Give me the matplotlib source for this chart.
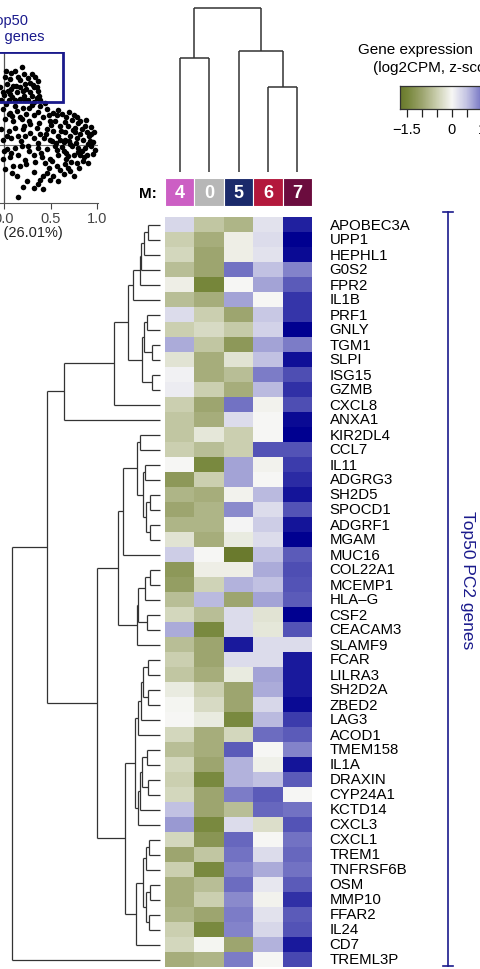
import numpy as np
import matplotlib
matplotlib.use('Agg')
import matplotlib.pyplot as plt
from matplotlib.colors import LinearSegmentedColormap
from matplotlib.patches import Rectangle
from matplotlib.lines import Line2D

plt.rcParams['font.family'] = ['Liberation Sans', 'DejaVu Sans']

genes = ["APOBEC3A", "UPP1", "HEPHL1", "G0S2", "FPR2", "IL1B", "PRF1", "GNLY",
         "TGM1", "SLPI", "ISG15", "GZMB", "CXCL8", "ANXA1", "KIR2DL4", "CCL7",
         "IL11", "ADGRG3", "SH2D5", "SPOCD1", "ADGRF1", "MGAM", "MUC16", "COL22A1",
         "MCEMP1", "HLA\u2013G", "CSF2", "CEACAM3", "SLAMF9", "FCAR", "LILRA3",
         "SH2D2A", "ZBED2", "LAG3", "ACOD1", "TMEM158", "IL1A", "DRAXIN", "CYP24A1",
         "KCTD14", "CXCL3", "CXCL1", "TREM1", "TNFRSF6B", "OSM", "MMP10", "FFAR2",
         "IL24", "CD7", "TREML3P"]

clusters = ["4", "0", "5", "6", "7"]
cluster_colors = ["#cc5fc4", "#b7b7b7", "#1b2a6b", "#b3183c", "#6b0c3e"]

# z-scored log2CPM, rows = genes, cols = clusters 4,0,5,6,7
expr = np.array([
    [0.3, -0.6, -0.8, 0.2, 1.7],
    [-0.5, -0.9, -0.1, 0.25, 2.0],
    [-0.4, -1.0, -0.1, 0.2, 1.9],
    [-0.7, -1.0, 1.0, 0.5, 0.9],
    [-0.1, -1.5, 0.0, 0.7, 1.2],
    [-0.7, -0.9, 0.7, 0.0, 1.5],
    [0.25, -0.5, -1.0, 0.45, 1.5],
    [-0.5, -0.35, -0.55, 0.35, 2.0],
    [0.65, -0.6, -1.2, 0.7, 0.95],
    [-0.25, -0.9, -0.25, 0.5, 1.85],
    [0.05, -0.9, -0.7, 0.95, 1.3],
    [0.1, -0.5, -0.9, 0.55, 1.55],
    [-0.5, -1.0, 1.0, -0.05, 1.3],
    [-0.6, -0.9, 0.25, 0.0, 1.9],
    [-0.6, -0.2, -0.5, 0.0, 2.0],
    [-0.5, -0.7, -0.5, 1.25, 1.25],
    [0.0, -1.45, 0.7, -0.05, 1.45],
    [-1.2, -0.5, 0.7, 0.0, 1.6],
    [-0.8, -0.9, -0.05, 0.55, 1.8],
    [-1.0, -0.8, 0.85, 0.25, 1.25],
    [-0.8, -0.8, 0.02, 0.4, 1.8],
    [-0.25, -0.9, -0.15, 0.25, 2.0],
    [0.4, 0.0, -1.7, 0.5, 1.2],
    [-1.2, -0.1, -0.1, 0.65, 1.3],
    [-1.1, -0.45, 0.6, 0.5, 1.25],
    [-0.7, 0.55, -1.0, 0.7, 1.2],
    [-0.4, -0.7, 0.25, -0.25, 2.0],
    [0.65, -1.45, 0.25, -0.2, 1.25],
    [-0.7, -1.0, 1.75, 0.25, 0.25],
    [-0.5, -1.0, 0.25, 0.25, 1.75],
    [-0.6, -0.9, -0.15, 0.7, 1.75],
    [-0.15, -0.5, -1.0, 0.65, 1.75],
    [-0.02, -0.35, -1.0, 0.3, 1.9],
    [0.0, -0.15, -1.45, 0.55, 1.45],
    [-0.4, -0.9, -0.4, 1.05, 1.2],
    [-0.7, -0.9, 1.2, 0.0, 0.9],
    [-0.4, -1.0, 0.6, -0.08, 1.8],
    [-0.5, -1.45, 0.6, 0.5, 1.2],
    [-0.4, -1.0, 0.95, 1.2, 0.0],
    [0.5, -1.0, -0.7, 1.1, 1.0],
    [0.75, -1.45, 0.25, -0.3, 1.25],
    [-0.4, -1.25, 1.1, 0.0, 1.0],
    [-1.0, -0.6, 1.0, 0.25, 1.1],
    [-0.5, -1.45, 0.9, 0.65, 1.0],
    [-0.9, -0.7, 1.05, 0.15, 1.2],
    [-0.9, -0.5, 0.85, -0.05, 1.55],
    [-0.8, -1.0, 0.95, 0.2, 1.2],
    [-0.5, -1.45, 0.9, 0.3, 1.25],
    [-0.4, -0.03, -1.0, 0.6, 1.75],
    [-0.9, -0.8, 0.95, 0.0, 1.35],
])

# row dendrogram: (child a, child b, height); ids >= 50 are earlier merges
row_merges = [
    (0, 1, 0.81), (50, 2, 1.08), (51, 3, 1.28), (52, 4, 1.35), (53, 5, 1.82),
    (6, 7, 0.88), (8, 9, 0.54), (55, 56, 1.08), (10, 11, 0.54), (57, 58, 1.22),
    (54, 59, 2.16), (60, 12, 3.11), (61, 13, 6.49),
    (14, 15, 1.35), (16, 17, 1.01), (18, 19, 0.68), (20, 21, 0.68), (65, 66, 0.95),
    (64, 67, 1.15), (63, 68, 1.55), (69, 22, 2.50),
    (23, 24, 0.68), (71, 25, 1.01), (26, 27, 0.88), (72, 73, 1.49), (74, 28, 1.55),
    (70, 75, 2.84),
    (29, 30, 0.81), (31, 32, 0.81), (77, 78, 1.15), (79, 33, 1.28), (80, 34, 1.49),
    (35, 36, 0.88), (37, 38, 0.81), (82, 83, 1.22), (84, 39, 1.35), (85, 40, 1.49),
    (81, 86, 1.69),
    (41, 42, 0.74), (88, 43, 0.95), (44, 45, 0.68), (46, 47, 0.74), (90, 91, 0.95),
    (89, 92, 1.15), (93, 48, 1.62), (87, 94, 2.36),
    (76, 95, 4.26), (62, 96, 7.64), (97, 49, 10.0),
]

# column dendrogram over clusters in display order 4,0,5,6,7
col_merges = [(0, 1, 0.695), (3, 4, 0.52), (2, 6, 0.74), (5, 7, 1.0)]

# PCA scores (visible part of the panel)
pc1 = [0.19, 0.12, 0.06, 0.15, 0.23, 0.30, 0.33, 0.37, 0.28, 0.03, 0.10, 0.17, 0.24,
       0.32, 0.37, -0.01, 0.06, 0.14, 0.21, 0.30, 0.35, 0.39, -0.03, 0.05, 0.12, 0.26,
       0.32, -0.04, 0.01, 0.21, 0.08,
       0.02, 0.08, 0.17, 0.26, 0.31, 0.20, 0.13, 0.00, 0.09, 0.28, 0.35, 0.23, 0.38,
       0.17, 0.04,
       -0.01, 0.06, 0.14, 0.01, 0.10, 0.17, -0.03, 0.05, 0.12, 0.21, -0.01, 0.08, 0.15,
       0.03, 0.12, 0.19, -0.01, 0.06, 0.15, 0.10, 0.01, 0.17, 0.24, 0.32, 0.39, 0.42,
       0.32, 0.15,
       0.39, 0.46, 0.53, 0.24, 0.32, 0.42, 0.49, 0.57, 0.28, 0.35, 0.46, 0.53, 0.60,
       0.23, 0.32, 0.39, 0.49, 0.58, 0.66, 0.26, 0.37, 0.46, 0.55, 0.64, 0.32, 0.41,
       0.49, 0.58, 0.67, 0.48, 0.57, 0.66, 0.53, 0.64, 0.71, 0.49,
       0.62, 0.67, 0.75, 0.82, 0.69, 0.76, 0.84, 0.89, 0.71, 0.78, 0.85, 0.92, 0.73,
       0.80, 0.87, 0.94, 0.75, 0.82, 0.89, 0.78, 0.85, 0.67, 0.91, 0.96, 0.84, 0.64,
       0.71, 0.76, 0.60,
       0.44, 0.50, 0.56, 0.70, 0.79, 0.87, 0.93, 0.98, 0.72, 0.60, 0.44, 0.27, 0.20,
       0.05, 0.00, 0.09, 0.36, 0.27, 0.43, 0.61,
       0.02, 0.12, 0.20, 0.30, 0.36, 0.48, 0.58, 0.70, 0.78, 0.88, 0.09, 0.19, 0.27,
       0.38, 0.55, 0.65, 0.73, 0.93, 0.97,
       0.03, 0.18, 0.28, 0.36, 0.45, 0.52, 0.62, 0.69, 0.77, 0.82, 0.90, 0.96, 0.86,
       0.79, 0.74, 0.66, 0.57, 0.52, 0.40, 0.33, 0.22, 0.07, 0.14, 0.25, 0.46, 0.58,
       0.69, 0.81, 0.90, 0.75, 0.20, 0.42]
pc2 = [0.84, 0.80, 0.71, 0.73, 0.66, 0.76, 0.73, 0.69, 0.67, 0.66, 0.64, 0.62, 0.60,
       0.62, 0.58, 0.57, 0.55, 0.57, 0.53, 0.53, 0.51, 0.49, 0.49, 0.49, 0.49, 0.48,
       0.46, 0.62, 0.73, 0.76, 0.60,
       0.80, 0.77, 0.70, 0.72, 0.65, 0.58, 0.63, 0.54, 0.52, 0.57, 0.62, 0.49, 0.53,
       0.50, 0.58,
       0.39, 0.35, 0.37, 0.28, 0.26, 0.30, 0.17, 0.15, 0.19, 0.21, 0.06, 0.08, 0.10,
       -0.04, -0.03, -0.01, -0.15, -0.13, -0.11, -0.22, -0.26, -0.22, -0.20, -0.29,
       -0.37, -0.33, -0.46, -0.56,
       0.42, 0.39, 0.35, 0.33, 0.32, 0.30, 0.26, 0.32, 0.23, 0.19, 0.17, 0.15, 0.21,
       0.10, 0.08, 0.12, 0.06, 0.10, 0.14, -0.01, -0.03, -0.04, -0.01, 0.03, -0.11,
       -0.13, -0.15, -0.11, -0.08, -0.24, -0.22, -0.20, -0.33, -0.31, -0.28, -0.37,
       0.33, 0.30, 0.32, 0.26, 0.21, 0.19, 0.17, 0.14, 0.10, 0.08, 0.06, 0.05, -0.01,
       -0.03, -0.03, -0.01, -0.10, -0.11, -0.10, -0.19, -0.17, -0.15, 0.10, 0.03,
       -0.06, -0.06, 0.01, 0.14, 0.06,
       0.45, 0.22, 0.02, 0.05, 0.24, 0.21, 0.12, -0.05, -0.18, -0.27, -0.19, -0.06,
       0.17, 0.33, -0.06, -0.30, -0.42, 0.40, 0.08, 0.15,
       0.44, 0.42, 0.40, 0.43, 0.36, 0.32, 0.38, 0.36, 0.30, 0.27, 0.31, 0.28, 0.26,
       0.24, 0.26, 0.25, 0.27, 0.20, 0.14,
       0.10, 0.04, 0.13, 0.02, 0.12, 0.04, -0.02, -0.12, 0.02, 0.12, 0.01, -0.09, -0.13,
       -0.07, 0.16, 0.06, -0.05, -0.17, -0.08, -0.18, -0.16, -0.08, -0.33, -0.38,
       -0.30, -0.38, -0.24, -0.24, -0.19, -0.33, -0.45, -0.47]

W, H = 480, 970
navy = "#1a1a8c"
line_col = "#333333"


def fx(px):
    return px / W


def fy(py):
    return 1 - py / H


def dendro_segments(n, merges):
    pos = {i: float(i) for i in range(n)}
    hgt = {i: 0.0 for i in range(n)}
    segs = []
    for k, (a, b, h) in enumerate(merges):
        segs.append(((hgt[a], h), (pos[a], pos[a])))
        segs.append(((hgt[b], h), (pos[b], pos[b])))
        segs.append(((h, h), (pos[a], pos[b])))
        pos[n + k] = (pos[a] + pos[b]) / 2
        hgt[n + k] = h
    return segs


cmap = LinearSegmentedColormap.from_list(
    "olive_blue",
    ["#5a6a1c", "#76863a", "#9da56f", "#cbcfb0", "#f7f7f5",
     "#c3c3e3", "#7474c4", "#3737aa", "#000090"])
vmin, vmax = -2.0, 2.0

fig = plt.figure(figsize=(W / 100, H / 100), dpi=100)

# heatmap
ax_hm = fig.add_axes([fx(165), fy(968), fx(147), 750 / H])
ax_hm.imshow(expr, cmap=cmap, vmin=vmin, vmax=vmax, aspect='auto',
             interpolation='nearest')
ax_hm.set_xlim(-0.5, 4.5)
ax_hm.set_ylim(49.5, -0.5)
ax_hm.axis('off')
for i, g in enumerate(genes):
    ax_hm.text(5.1, i, g, va='center', ha='left', fontsize=10.8, clip_on=False)

# row dendrogram
ax_rd = fig.add_axes([0, fy(968), fx(165), 750 / H])
for xs, ys in dendro_segments(len(genes), row_merges):
    ax_rd.plot(xs, ys, color=line_col, lw=0.9, solid_capstyle='butt')
ax_rd.set_xlim(10.81, -0.34)
ax_rd.set_ylim(49.5, -0.5)
ax_rd.axis('off')

# column dendrogram
ax_cd = fig.add_axes([fx(165), fy(175), fx(147), 170 / H])
for hs, ps in dendro_segments(len(clusters), col_merges):
    ax_cd.plot(ps, hs, color=line_col, lw=1.1, solid_capstyle='butt')
ax_cd.set_xlim(-0.5, 4.5)
ax_cd.set_ylim(-0.012, 1.024)
ax_cd.axis('off')

# cluster annotation
ax_an = fig.add_axes([fx(165), fy(207), fx(147), 28 / H])
for j, (c, col) in enumerate(zip(clusters, cluster_colors)):
    ax_an.add_patch(Rectangle((j - 0.5, 0), 1, 1, facecolor=col,
                              edgecolor='white', lw=0.8))
    ax_an.text(j, 0.5, c, color='white', fontweight='bold', fontsize=13,
               ha='center', va='center')
ax_an.set_xlim(-0.5, 4.5)
ax_an.set_ylim(0, 1)
ax_an.axis('off')
fig.text(fx(157), fy(194), "M:", ha='right', va='center', fontweight='bold',
         fontsize=11)

# colour legend
lo, hi = -1.733, 1.767
ax_cb = fig.add_axes([fx(400), fy(110), fx(105), 23 / H])
grad = np.linspace(lo, hi, 256)[None, :]
ax_cb.imshow(grad, cmap=cmap, vmin=vmin, vmax=vmax, aspect='auto',
             extent=[lo, hi, 0, 1])
ax_cb.set_xlim(lo, hi)
ax_cb.set_yticks([])
ax_cb.set_xticks([-1.5, -1.0, -0.5, 0, 0.5, 1.0, 1.5])
ax_cb.set_xticklabels(["\u22121.5", "", "", "0", "", "1", ""])
ax_cb.tick_params(axis='x', length=6, width=0.9, labelsize=10.5, pad=3,
                  color='#222222')
for s in ax_cb.spines.values():
    s.set_color('#333333')
    s.set_linewidth(0.9)
fig.text(fx(358), fy(50), "Gene expression", ha='left', va='center', fontsize=11)
fig.text(fx(373), fy(68), "(log2CPM, z-score)", ha='left', va='center', fontsize=11)

# PCA panel (cropped at the left edge)
ax_sc = fig.add_axes([fx(-89), fy(204), fx(187), 151 / H])
ax_sc.axhline(0, color='#777777', lw=0.8, zorder=1)
ax_sc.axvline(0, color='#555555', lw=0.9, zorder=1)
ax_sc.scatter(pc1, pc2, s=16, color='black', linewidths=0, zorder=2)
ax_sc.add_patch(Rectangle((-0.6, 0.46), 1.23, 0.535, fill=False,
                          edgecolor=navy, lw=2, zorder=3))
ax_sc.set_xlim(-1.0, 1.01)
ax_sc.set_ylim(-0.62, 1.0)
for side in ['top', 'right', 'left']:
    ax_sc.spines[side].set_visible(False)
ax_sc.spines['bottom'].set_color('#555555')
ax_sc.set_yticks([])
ax_sc.set_xticks([0, 0.5, 1.0])
ax_sc.set_xticklabels(["0.0", "0.5", "1.0"])
ax_sc.tick_params(axis='x', length=4, labelsize=10.5, colors='#444444', pad=2)
ax_sc.text(0.045, 1.26, "Top50\nPC2 genes", color=navy, fontsize=10.5,
           ha='center', va='center', clip_on=False)
ax_sc.text(0.634, -0.935, "PC1 (26.01%)", ha='right', va='center', fontsize=10.5,
           color='#222222', clip_on=False)

# gene set bracket
fig.add_artist(Line2D([fx(448), fx(448)], [fy(213), fy(967)], color=navy, lw=1.2))
fig.add_artist(Line2D([fx(443), fx(453)], [fy(213), fy(213)], color=navy, lw=1.2))
fig.add_artist(Line2D([fx(443), fx(453)], [fy(967), fy(967)], color=navy, lw=1.2))
fig.text(fx(468), fy(580), "Top50 PC2 genes", rotation=270, ha='center',
         va='center', color=navy, fontsize=12.5)

fig.savefig("out.png", dpi=100)
